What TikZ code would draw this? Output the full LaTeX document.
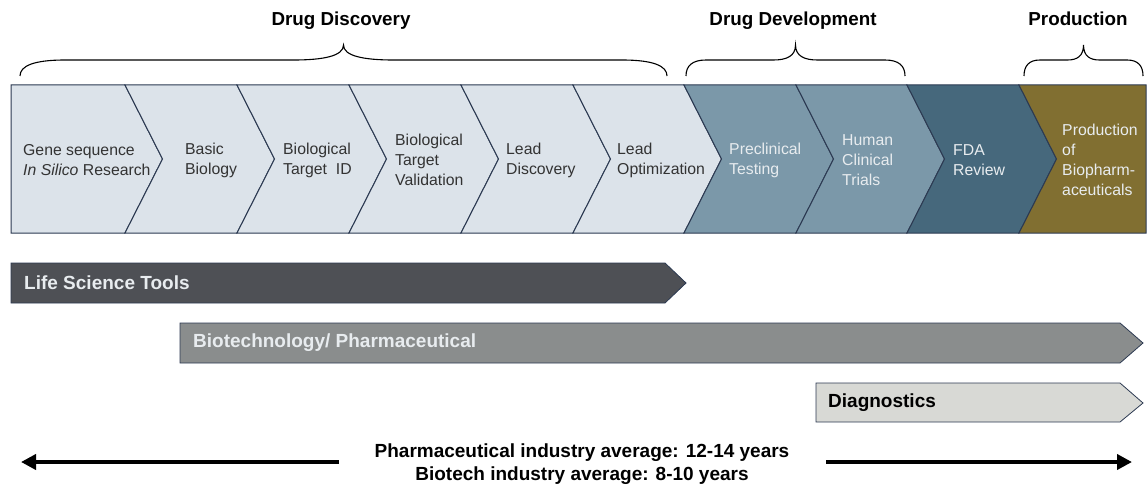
\documentclass[tikz,border=0pt]{standalone}
\usepackage{fontspec}
\setmainfont{Liberation Sans}
\usetikzlibrary{arrows.meta}
\definecolor{navy}{HTML}{2C3A52}
\definecolor{chlight}{HTML}{DCE3EA}
\definecolor{chmid}{HTML}{7B98A9}
\definecolor{chdark}{HTML}{46687C}
\definecolor{chgold}{HTML}{816F31}
\definecolor{txtdark}{HTML}{333333}
\definecolor{txtlight}{HTML}{E8ECEF}
\definecolor{lifesci}{HTML}{4E5055}
\definecolor{biotech}{HTML}{8A8D8D}
\definecolor{diag}{HTML}{D8D9D5}
\tikzset{
  chev/.style={draw=navy, line width=1pt, line join=miter},
  lab/.style={anchor=west, align=left, inner sep=0pt, font=\fontsize{15.8}{20}\selectfont, text=txtdark},
  lablight/.style={lab, text=txtlight},
  barshape/.style={draw=navy, line width=0.8pt},
  barlab/.style={anchor=west, inner sep=0pt, font=\fontsize{19}{22}\selectfont\bfseries},
  phasetitle/.style={anchor=base, inner sep=0pt, font=\fontsize{18.8}{22}\selectfont\bfseries},
  bracepath/.style={draw=black, line width=1.1pt},
  spanarrow/.style={line width=4pt, -{Triangle[length=15pt,width=15pt]}},
  avgtext/.style={align=center, inner sep=0pt, font=\fontsize{19}{23}\selectfont\bfseries},
}
\newcommand\chevseg[3]{\path[chev, fill=#3] (#1,85) -- (#2,85) -- ({#2+37.5},159) -- (#2,233) -- (#1,233) -- ({#1+37.5},159) -- cycle;}
\newcommand\phasebrace[4]{%
  \pgfmathsetmacro\bm{(#1+#2)/2}%
  \draw[bracepath] (#1,76) .. controls (#1,66) and ({#1+0.3*#3},60) .. ({#1+#3},60)
    -- ({\bm-#4},60) .. controls ({\bm-0.4*#4},60) and (\bm,56) .. (\bm,45)
    .. controls (\bm,56) and ({\bm+0.4*#4},60) .. ({\bm+#4},60)
    -- ({#2-#3},60) .. controls ({#2-0.3*#3},60) and (#2,66) .. (#2,76);}
\begin{document}
\begin{tikzpicture}[x=1pt,y=-1pt]
\useasboundingbox (0,0) rectangle (1147,484);
% chevron strip
\path[chev, fill=chlight] (11,85) -- (125,85) -- (162.5,159) -- (125,233) -- (11,233) -- cycle;
\chevseg{125}{237}{chlight}
\chevseg{237}{349}{chlight}
\chevseg{349}{461}{chlight}
\chevseg{461}{573}{chlight}
\chevseg{573}{684}{chlight}
\chevseg{684}{796}{chmid}
\chevseg{796}{907}{chmid}
\chevseg{907}{1019}{chdark}
\path[chev, fill=chgold] (1019,85) -- (1146,85) -- (1146,233) -- (1019,233) -- (1056.5,159) -- cycle;
% chevron labels
\node[lab] (s1) at (23,160) {Gene sequence\\\textit{In Silico} Research};
\node[lab] (s2) at (185,160) {Basic\\Biology};
\node[lab] (s3) at (283,160) {Biological\\Target\ \ ID};
\node[lab] (s4) at (395,160) {Biological\\Target\\Validation};
\node[lab] (s5) at (506,160) {Lead\\Discovery};
\node[lab] (s6) at (617,160) {Lead\\Optimization};
\node[lablight] (s7) at (729,160) {Preclinical\\Testing};
\node[lablight] (s8) at (842,160) {Human\\Clinical\\Trials};
\node[lablight] (s9) at (953,160) {FDA\\Review};
\node[lablight] (s10) at (1062,160) {Production\\of\\Biopharm-\\aceuticals};
% braces and titles
\phasebrace{20}{667}{45}{50}
\phasebrace{686}{905}{20}{22}
\phasebrace{1024}{1143}{16}{16}
\node[phasetitle] (tdisc) at (341,26) {Drug Discovery};
\node[phasetitle] (tdev) at (793,26) {Drug Development};
\node[phasetitle] (tprod) at (1078,26) {Production};
% industry bars
\path[barshape, fill=lifesci] (11,263) -- (665,263) -- (686,283) -- (665,303) -- (11,303) -- cycle;
\node[barlab, text=txtlight] (blife) at (24,283) {Life Science Tools};
\path[barshape, fill=biotech] (180,323) -- (1120,323) -- (1143,343) -- (1120,363) -- (180,363) -- cycle;
\node[barlab, text=txtlight] (bbio) at (193,343) {Biotechnology/ Pharmaceutical};
\path[barshape, fill=diag] (816,383) -- (1120,383) -- (1143,403) -- (1120,422) -- (816,422) -- cycle;
\node[barlab, text=black] (bdiag) at (828,403) {Diagnostics};
% timeline
\node[avgtext] (avg) at (582,464) {Pharmaceutical industry average: 12-14 years\\Biotech industry average: 8-10 years};
\coordinate (la0) at (339,462);
\coordinate (la1) at (21,462);
\coordinate (ra0) at (826,462);
\coordinate (ra1) at (1132,462);
\draw[spanarrow] (la0) -- (la1);
\draw[spanarrow] (ra0) -- (ra1);
\end{tikzpicture}
\end{document}
